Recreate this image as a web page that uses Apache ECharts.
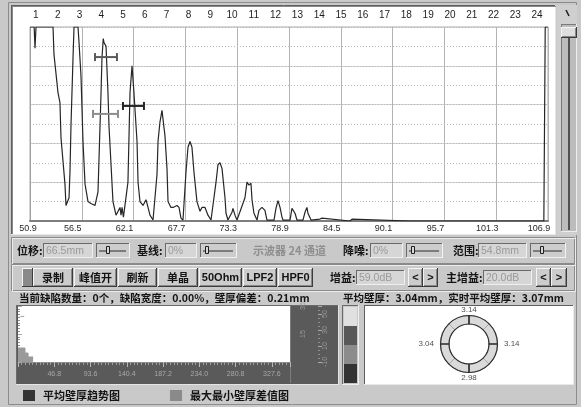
<!DOCTYPE html>
<html>
<head>
<meta charset="utf-8">
<script src="https://cdn.jsdelivr.net/npm/echarts@6/dist/echarts.min.js"></script>
<style>
  html, body { margin: 0; padding: 0; background: #c9c9c9; }
  #main { width: 581px; height: 407px; }
</style>
</head>
<body>
<div id="main"></div>
<script>
// ---- A-scan window ----
const X0 = 50.9;        // left edge of the sound-path window, mm
const X_SPAN = 56;      // window width, mm
const X_STEP = 5.6;     // one horizontal division, mm

const channelLabels = ['1','2','3','4','5','6','7','8','9','10','11','12',
                       '13','14','15','16','17','18','19','20','21','22','23','24'];
const depthTicks = ['50.9','56.5','62.1','67.7','73.3','78.9','84.5','90.1','95.7','101.3','106.9'];

// echo trace: [sound path mm, amplitude %]
const waveform = [
  [50.90,100],[51.35,100],[51.44,89],[51.55,100],[53.39,100],[53.49,86],[53.93,66],[54.14,61],
  [54.25,43],[54.68,19],[54.79,8],[54.90,7],[55.12,12],[55.22,25],[55.33,49],[55.55,84],
  [55.66,100],[56.09,100],[56.20,92],[56.41,75],[56.63,41],[56.85,19],[57.17,10],[57.49,9],
  [57.93,8],[58.14,7],[58.25,15],[58.36,32],[58.58,66],[58.68,84],[58.82,94],[58.90,92],
  [59.01,93],[59.12,90],[59.33,66],[59.44,49],[59.66,29],[59.87,10],[60.20,3],[60.41,2],
  [60.63,7],[60.74,3],[60.85,7],[61.00,2],[61.17,1],[61.49,20],[61.71,66],[61.93,80],
  [62.14,66],[62.47,41],[62.58,20],[62.79,10],[63.12,8],[63.44,11],[63.66,7],[63.87,3],
  [64.20,0.5],[64.63,24],[64.74,41],[64.95,51],[65.17,57],[65.39,48],[65.49,44],[65.71,27],
  [65.82,10],[66.14,7],[66.36,7],[66.79,8],[67.01,7],[67.22,1.5],[67.44,0.5],[67.76,25],
  [67.98,38],[68.20,41],[68.41,38],[68.63,25],[68.95,10],[69.28,5],[69.49,7],[69.82,7],
  [70.14,3],[70.47,0.5],[70.68,1.5],[71.01,20],[71.22,29],[71.44,30],[71.66,27],[71.98,12],
  [72.09,4],[72.30,0.5],[72.74,4.5],[72.84,6.5],[73.06,3],[73.28,0.5],[74.14,12],[74.36,20],
  [74.57,18.5],[74.79,19.5],[74.90,11],[75.11,4],[75.44,0.5],[75.65,5.5],[75.98,7],[76.09,6.5],
  [76.30,5.5],[76.52,0.5],[77.28,0.5],[77.49,6.5],[77.71,10.5],[77.93,7],[78.14,2],[78.25,0.5],
  [79.01,0.5],[79.22,6.5],[79.33,6.5],[79.55,4],[79.76,0.5],[80.41,0.5],[80.63,4.5],[80.84,7],
  [80.95,4],[81.28,0.5],[82.25,1],[82.47,1.5],[82.57,0.5],[85.49,0],[85.71,1],[85.92,0],
  [91.98,0],[92.19,1],[92.41,0],[103.66,0],[103.87,1],[104.09,0],[106.45,0],[106.60,100],[106.90,100]
];

// gates: [start mm, end mm, threshold %]
const gates = [
  [57.93, 60.30, 84.5],
  [57.71, 60.41, 55.2],
  [60.95, 63.22, 59.3]
];
const gateColors = ['#5a5a5a', '#8c8c8c', '#262626'];

// ---- trend panel ----
const TREND_MAX = 351;
const TREND_STEP = 46.8;
const diffTrend = [[0, 0.25], [9, 0.16], [13, 0.09], [19.5, 0.09]];   // max-min difference, mm
const avgTrend = [[3, 3.07], [8, 3.07]];                               // mean wall thickness, mm

// ---- ring: top, right, bottom, left wall thickness ----
const ringValues = [3.14, 3.14, 2.98, 3.04];
const ringSegments = [1, 1, 1, 1, 1, 1, 1, 1];

const FONT_CJK = '"Noto Sans CJK SC", sans-serif';
const FONT_UI = '"Liberation Sans", "DejaVu Sans", sans-serif';

// ---------- window chrome ----------
const g = [];
function rect(x, y, w, h, fill, stroke, z) {
  g.push({ type: 'rect', z: z == null ? -10 : z, silent: true,
    shape: { x: x, y: y, width: w, height: h },
    style: { fill: fill, stroke: stroke || null, lineWidth: 1 } });
}
function line(x1, y1, x2, y2, stroke, w, z) {
  g.push({ type: 'line', z: z == null ? -9 : z, silent: true,
    shape: { x1: x1, y1: y1, x2: x2, y2: y2 },
    style: { stroke: stroke, lineWidth: w || 1 } });
}
function sunken(x, y, w, h, fill, dark, light) {
  rect(x, y, w, h, fill);
  line(x + 0.5, y, x + 0.5, y + h, dark || '#707070');
  line(x, y + 0.5, x + w, y + 0.5, dark || '#707070');
  line(x + w - 0.5, y, x + w - 0.5, y + h, light || '#f2f2f2');
  line(x, y + h - 0.5, x + w, y + h - 0.5, light || '#f2f2f2');
}
function raised(x, y, w, h, fill) {
  rect(x, y, w, h, fill);
  line(x + 0.5, y, x + 0.5, y + h, '#f4f4f4');
  line(x, y + 0.5, x + w, y + 0.5, '#f4f4f4');
  line(x + w - 0.5, y, x + w - 0.5, y + h, '#3c3c3c');
  line(x, y + h - 0.5, x + w, y + h - 0.5, '#3c3c3c');
  line(x + w - 1.5, y + 1, x + w - 1.5, y + h - 1, '#888888');
  line(x + 1, y + h - 1.5, x + w - 1, y + h - 1.5, '#888888');
}
function groove(x, y, w, h) {
  g.push({ type: 'rect', z: -9, silent: true, shape: { x: x + 0.5, y: y + 0.5, width: w, height: h },
    style: { fill: null, stroke: '#8a8a8a', lineWidth: 1 } });
  g.push({ type: 'rect', z: -9, silent: true, shape: { x: x + 1.5, y: y + 1.5, width: w, height: h },
    style: { fill: null, stroke: '#ececec', lineWidth: 1 } });
}
function text(x, y, str, opts) {
  g.push({ type: 'text', z: 5, silent: true, x: x, y: y,
    style: Object.assign({ text: str, fill: '#141414', font: 'bold 11px ' + FONT_CJK,
      align: 'left', verticalAlign: 'middle' }, opts || {}) });
}
function field(x, y, w, h, str) {
  sunken(x, y, w, h, '#d6d6d6', '#6a6a6a', '#efefef');
  text(x + 3, y + h / 2 + 0.5, str, { fill: '#9a9a9a', font: '10.5px ' + FONT_UI });
}
function slider(x, y, w, h, thumbX) {
  sunken(x, y, w, h, '#cdcdcd', '#6a6a6a', '#f2f2f2');
  line(x + 3, y + h / 2 + 0.5, x + w - 4, y + h / 2 + 0.5, '#2a2a2a', 1, -8);
  g.push({ type: 'rect', z: -7, silent: true, shape: { x: thumbX + 0.5, y: y + 3.5, width: 3, height: h - 8 },
    style: { fill: '#d8d8d8', stroke: '#1e1e1e', lineWidth: 1 } });
}
function button(x, y, w, h, str, font) {
  raised(x, y, w, h, '#cccccc');
  text(x + w / 2, y + h / 2, str, { align: 'center', font: font || ('bold 11px ' + FONT_CJK) });
}

// outer frame
g.push({ type: 'rect', z: -11, silent: true, shape: { x: 8.5, y: 2.5, width: 568, height: 402 },
  style: { fill: '#c9c9c9', stroke: '#8c8c8c', lineWidth: 1 } });

// A-scan panel
sunken(11, 5, 545, 230, '#ffffff', '#5e5e5e', '#e8e8e8');
line(12, 6.5, 556, 6.5, '#8a8a8a');
line(12.5, 6, 12.5, 234, '#8a8a8a');

// right-hand range slider
rect(557, 5, 20, 230, '#cfcfcf');
line(566, 10, 569, 16, '#1e1e1e', 1.5, -8);
sunken(561, 24, 16, 208, '#bcbcbc', '#7a7a7a', '#eeeeee');
line(569, 38, 569, 230, '#505050', 2, -8);
raised(561, 27, 16, 11, '#dedede');

// control rows
groove(11, 237, 563, 26);
groove(11, 264, 563, 26);

text(17, 251, '位移:');
field(43, 243, 50, 15, '66.5mm');
slider(96, 243, 34, 15, 106);
text(137, 251, '基线:');
field(165, 243, 32, 15, '0%');
slider(200, 243, 37, 15, 205);
text(253, 251, '示波器 24 通道', { fill: '#8e8e8e' });
text(343, 251, '降噪:');
field(370, 243, 33, 15, '0%');
slider(406, 243, 37, 15, 411);
text(453, 251, '范围:');
field(478, 243, 49, 15, '54.8mm');
slider(530, 243, 36, 15, 540);

raised(22, 268, 11, 19, '#8a8a8a');
button(33, 268, 40, 19, '录制');
button(74, 268, 43, 19, '峰值开');
button(118, 268, 39, 19, '刷新');
button(158, 268, 40, 19, '单晶');
button(199, 268, 43, 19, '50Ohm', 'bold 11px ' + FONT_UI);
button(243, 268, 34, 19, 'LPF2', 'bold 11px ' + FONT_UI);
button(278, 268, 35, 19, 'HPF0', 'bold 11px ' + FONT_UI);
text(330, 278, '增益:');
field(356, 270, 49, 15, '59.0dB');
button(408, 268, 15, 19, '<', 'bold 11px ' + FONT_UI);
button(423, 268, 15, 19, '>', 'bold 11px ' + FONT_UI);
text(446, 278, '主增益:');
field(483, 270, 49, 15, '20.0dB');
button(536, 268, 15, 19, '<', 'bold 11px ' + FONT_UI);
button(551, 268, 16, 19, '>', 'bold 11px ' + FONT_UI);

text(19, 298, '当前缺陷数量：0个，缺陷宽度：0.00%，壁厚偏差：0.21mm', { font: 'bold 10.5px ' + FONT_CJK });
text(343, 298, '平均壁厚：3.04mm，实时平均壁厚：3.07mm', { font: 'bold 10.5px ' + FONT_CJK });

// trend panel
sunken(16, 305, 323, 80, '#5a5a5a', '#6a6a6a', '#e4e4e4');
rect(18, 306, 272, 56, '#ffffff');
line(290.5, 306, 290.5, 383, '#7c7c7c', 1, -8);

// colour key beside the ring
sunken(342, 305, 17, 80, '#c9c9c9', '#6a6a6a', '#efefef');
rect(344, 307, 13, 19, '#e0e0e0');
rect(344, 326, 13, 19, '#585858');
rect(344, 345, 13, 19, '#8c8c8c');
rect(344, 364, 13, 19, '#343434');

// ring panel
sunken(364, 305, 210, 80, '#ffffff', '#5e5e5e', '#e8e8e8');

// ---------- chart ----------
const chart = echarts.init(document.getElementById('main'));

const option = {
  backgroundColor: '#c9c9c9',
  animation: false,
  graphic: { elements: g },
  legend: {
    left: 18, top: 385, itemWidth: 12, itemHeight: 11, itemGap: 50,
    icon: 'rect',
    data: ['平均壁厚趋势图', '最大最小壁厚差值图'],
    textStyle: { color: '#141414', fontWeight: 'bold', fontSize: 11, fontFamily: FONT_CJK, padding: [0, 0, 0, 3] },
    selectedMode: false
  },
  grid: [
    { left: 30, top: 27, width: 518, height: 194, show: true, borderColor: '#a8a8a8', borderWidth: 1, backgroundColor: 'transparent' },
    { left: 25, top: 27, width: 523, height: 194, show: false },
    { left: 18, top: 306, width: 272, height: 56, show: false }
  ],
  polar: { center: [469, 344], radius: 34 },
  radiusAxis: { min: 0, max: 1, show: false },
  angleAxis: { min: 0, max: 360, startAngle: 90, clockwise: true, show: false },
  xAxis: [
    {
      gridIndex: 0, type: 'value', min: 0, max: X_SPAN, interval: X_STEP,
      axisLine: { show: true, lineStyle: { color: '#7e7e7e', width: 2 } },
      axisTick: { show: false },
      splitLine: { show: true, lineStyle: { color: '#b4b4b4', width: 1 } },
      axisLabel: {
        margin: 3, color: '#2a2a2a', fontSize: 9, fontFamily: FONT_UI,
        formatter: function (v) {
          const i = Math.round(v / X_STEP);
          return i === 0 ? '{f|' + depthTicks[i] + '}' : '{s|' + depthTicks[i] + '}';
        },
        rich: {
          f: { color: '#2a2a2a', fontSize: 9, fontFamily: FONT_UI, padding: [0, 4, 0, 0] },
          s: { color: '#2a2a2a', fontSize: 9, fontFamily: FONT_UI, padding: [0, 18, 0, 0] }
        }
      }
    },
    {
      gridIndex: 1, type: 'category', position: 'top', data: channelLabels,
      axisLine: { show: false }, axisTick: { show: false }, splitLine: { show: false },
      axisLabel: { margin: 7, color: '#1e1e1e', fontSize: 10, fontFamily: FONT_UI }
    },
    {
      gridIndex: 2, type: 'value', min: 0, max: TREND_MAX, interval: TREND_STEP,
      axisLine: { show: true, lineStyle: { color: '#8a8a8a', width: 1 } },
      axisTick: { show: true, length: 5, lineStyle: { color: '#b8b8b8' } },
      minorTick: { show: true, splitNumber: 10, length: 3, lineStyle: { color: '#9c9c9c' } },
      splitLine: { show: false },
      axisLabel: {
        margin: 9, color: '#a8a8a8', fontSize: 7, fontFamily: FONT_UI,
        showMinLabel: false, showMaxLabel: false,
        formatter: function (v) { return v.toFixed(1); }
      }
    }
  ],
  yAxis: [
    {
      gridIndex: 0, type: 'value', min: 0, max: 100, interval: 20,
      axisLine: { show: true, lineStyle: { color: '#a0a0a0' } },
      axisTick: { show: false }, axisLabel: { show: false },
      splitLine: { show: true, lineStyle: { color: '#d2d2d2', width: 1 } }
    },
    {
      gridIndex: 0, type: 'value', min: 0, max: 100, interval: 10,
      axisLine: { show: false }, axisTick: { show: false }, axisLabel: { show: false },
      splitLine: { show: true, lineStyle: { color: '#b8b8b8', width: 1, type: [1, 2] } }
    },
    { gridIndex: 1, type: 'value', show: false },
    {
      gridIndex: 2, type: 'value', min: 0, max: 1, interval: 0.5, position: 'right', offset: 2,
      axisLine: { show: false },
      axisTick: { show: true, length: 4, lineStyle: { color: '#aaaaaa' } },
      minorTick: { show: true, splitNumber: 10, length: 2, lineStyle: { color: '#8e8e8e' } },
      splitLine: { show: false },
      axisLabel: { margin: 8, rotate: 90, color: '#9a9a9a', fontSize: 7, fontFamily: FONT_UI,
        showMinLabel: false,
        formatter: function (v) { return Math.round(v * 40 - 5); } }
    },
    {
      gridIndex: 2, type: 'value', min: 2.5, max: 3.2, interval: 0.2, position: 'right', offset: 28,
      axisLine: { show: false },
      axisTick: { show: true, length: 4, lineStyle: { color: '#aaaaaa' } },
      minorTick: { show: true, splitNumber: 4, length: 2, lineStyle: { color: '#8e8e8e' } },
      splitLine: { show: false },
      axisLabel: { margin: 4, rotate: 90, color: '#9a9a9a', fontSize: 7, fontFamily: FONT_UI,
        showMaxLabel: false,
        formatter: function (v) { return Math.round((v - 2.5) * 100 - 10); } }
    }
  ],
  series: [
    {
      name: 'A扫描', type: 'line', xAxisIndex: 0, yAxisIndex: 0,
      data: waveform.map(function (p) { return [p[0] - X0, p[1]]; }),
      showSymbol: false, clip: true, silent: true,
      lineStyle: { color: '#262626', width: 1.2 }, z: 3
    },
    {
      name: '闸门', type: 'custom', xAxisIndex: 0, yAxisIndex: 0, silent: true, z: 4,
      data: gates.map(function (d) { return [d[0] - X0, d[1] - X0, d[2]]; }),
      encode: { x: [0, 1], y: 2 },
      renderItem: function (params, api) {
        const a = api.coord([api.value(0), api.value(2)]);
        const b = api.coord([api.value(1), api.value(2)]);
        const st = { stroke: gateColors[params.dataIndex], lineWidth: 2 };
        return { type: 'group', children: [
          { type: 'line', shape: { x1: a[0], y1: a[1], x2: b[0], y2: b[1] }, style: st },
          { type: 'line', shape: { x1: a[0], y1: a[1] - 4, x2: a[0], y2: a[1] + 4 }, style: st },
          { type: 'line', shape: { x1: b[0], y1: b[1] - 4, x2: b[0], y2: b[1] + 4 }, style: st }
        ] };
      }
    },
    {
      name: '最大最小壁厚差值图', type: 'line', xAxisIndex: 2, yAxisIndex: 3,
      color: '#8a8a8a', step: 'end', data: diffTrend, showSymbol: false, silent: true,
      lineStyle: { color: '#9a9a9a', width: 1 },
      areaStyle: { color: '#9a9a9a', opacity: 1 }
    },
    {
      name: '平均壁厚趋势图', type: 'line', xAxisIndex: 2, yAxisIndex: 4,
      color: '#333333', data: avgTrend, showSymbol: false, silent: true,
      lineStyle: { color: '#a0a0a0', width: 1 }
    },
    {
      name: '壁厚环', type: 'pie', center: [469, 344], radius: [20, 28.5], startAngle: 90,
      silent: true, label: { show: false }, labelLine: { show: false },
      data: ringSegments.map(function (v) { return { value: v }; }),
      itemStyle: { color: '#dadada', borderColor: '#a8a8a8', borderWidth: 1 }
    },
    {
      name: '壁厚环分区', type: 'pie', center: [469, 344], radius: [20, 28.5], startAngle: 90,
      silent: true, label: { show: false }, labelLine: { show: false },
      data: [1, 1, 1, 1].map(function (v) { return { value: v }; }),
      itemStyle: { color: 'rgba(0,0,0,0)', borderColor: '#303030', borderWidth: 1.2 }
    },
    {
      name: '壁厚值', type: 'scatter', coordinateSystem: 'polar', symbolSize: 0, silent: true,
      data: ringValues.map(function (v, i) {
        return { value: [1, i * 90], label: { position: ['inside', 'right', 'inside', 'left'][i], distance: 1 } };
      }),
      label: {
        show: true, color: '#1e1e1e', fontSize: 8, fontFamily: FONT_UI,
        formatter: function (p) { return ringValues[p.dataIndex].toFixed(2); }
      }
    }
  ]
};
chart.setOption(option);
</script>
</body>
</html>
